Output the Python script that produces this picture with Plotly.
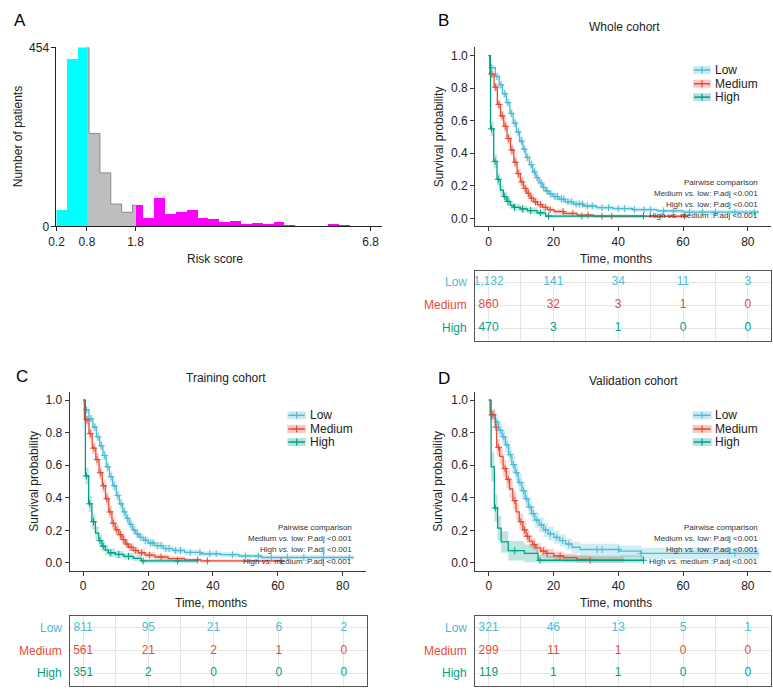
import plotly.graph_objects as go
from bisect import bisect_right

W, H = 773, 694
FONT = "Liberation Sans, Arial, Helvetica, sans-serif"
LOW_C, MED_C, HIGH_C = "#4DBBD5", "#E64B35", "#00A087"

# ---------------- Panel A: risk score histogram ----------------
hist_bin_start = 0.2
hist_bin_width = 0.228
hist_counts = [41, 426, 454, 236, 136, 57, 36, 54, 22, 73, 31, 37, 41, 22, 18,
               12, 13, 7, 10, 7, 12, 3, 2, 1, 2, 7, 5, 2, 2, 1]
risk_cutoffs = [0.84, 1.86]
risk_tick_vals = [0.2, 0.84, 1.86, 6.8]
risk_tick_text = ["0.2", "0.8", "1.8", "6.8"]
hist_colors = ["#00FFFF", "#BEBEBE", "#FF00FF"]

# ---------------- KM data: Whole cohort ----------------
whole_low_t = [0, 0.4, 2.1, 3.3, 4.3, 5.5, 6.6, 7.6, 8.6, 9.6, 10.6, 11.5, 12.6, 13.6, 14.6, 15.6,
               16.6, 17.6, 18.6, 19.9, 21.7, 23.7, 26.2, 29.3, 33.3, 38.4, 44.5, 52, 60]
whole_low_s = [1.0, 0.926, 0.872, 0.82, 0.766, 0.711, 0.645, 0.585, 0.531, 0.475, 0.425, 0.375, 0.33,
               0.285, 0.25, 0.218, 0.19, 0.168, 0.15, 0.134, 0.118, 0.102, 0.088, 0.076, 0.066, 0.06,
               0.054, 0.046, 0.038]
whole_low_ci = [0, 0.016, 0.02, 0.022, 0.024, 0.025, 0.026, 0.027, 0.028, 0.028, 0.028, 0.027, 0.026,
                0.025, 0.024, 0.023, 0.022, 0.021, 0.02, 0.019, 0.018, 0.017, 0.016, 0.015, 0.014,
                0.014, 0.013, 0.013, 0.013]
whole_low_cens = [1.0, 2.6, 3.8, 5.0, 6.0, 7.0, 8.2, 9.2, 10.2, 11.0, 12.0, 13.2, 14.2, 15.0, 16.2, 17.0,
                  18.0, 19.2, 20.5, 21.2, 22.5, 23.2, 24.5, 25.5, 27.0, 28.0, 29.0, 30.5, 32.0, 35.0,
                  37.0, 40.0, 42.0, 45.0, 48.0, 50.0, 54.0, 57.0, 62.0, 66.0, 70.0, 76.0, 82.0]
whole_low_end = 83.4

whole_med_t = [0, 0.4, 1.7, 2.7, 3.7, 4.7, 5.7, 6.8, 7.8, 8.8, 9.8, 10.8, 11.8, 12.8, 13.9, 15.1,
               16.6, 18.2, 20.2, 23.2, 27.3, 32.4]
whole_med_s = [1.0, 0.886, 0.806, 0.70, 0.63, 0.565, 0.49, 0.42, 0.345, 0.275, 0.224, 0.184, 0.154,
               0.124, 0.102, 0.084, 0.068, 0.054, 0.042, 0.03, 0.02, 0.013]
whole_med_ci = [0, 0.02, 0.026, 0.03, 0.032, 0.033, 0.033, 0.033, 0.032, 0.03, 0.028, 0.026, 0.024,
                0.022, 0.02, 0.018, 0.016, 0.014, 0.013, 0.011, 0.009, 0.008]
whole_med_cens = [1.0, 2.2, 3.2, 4.2, 5.2, 6.2, 7.2, 8.2, 9.2, 10.3, 11.3, 12.3, 13.3, 14.5, 16.0,
                  17.5, 19.0, 23.0, 26.0, 30.7, 35.0, 38.0, 60.5]
whole_med_end = 61.0

whole_high_t = [0, 0.6, 1.6, 2.6, 3.6, 4.6, 5.6, 6.7, 7.7, 9.8, 12, 15, 17.6]
whole_high_s = [1.0, 0.55, 0.35, 0.24, 0.174, 0.134, 0.104, 0.08, 0.068, 0.058, 0.048, 0.034, 0.014]
whole_high_ci = [0, 0.045, 0.043, 0.038, 0.034, 0.03, 0.027, 0.024, 0.022, 0.02, 0.019, 0.016, 0.01]
whole_high_cens = [0.9, 2.0, 3.0, 5.0, 6.0, 8.0, 10.5, 13.0, 16.0, 18.5, 28.8, 47.8]
whole_high_end = 48.0

# ---------------- KM data: Training cohort ----------------
train_low_t = [0, 0.4, 1.8, 3.0, 4.1, 5.1, 6.1, 7.1, 8.1, 9.1, 10.2, 11.2, 12.2, 13.2, 14.2, 15.2,
               16.2, 17.3, 18.6, 20.1, 22.1, 24.7, 27.7, 31.3, 36.3, 42.4, 48, 55]
train_low_s = [1.0, 0.94, 0.886, 0.835, 0.775, 0.72, 0.66, 0.59, 0.53, 0.474, 0.414, 0.363, 0.313,
               0.273, 0.237, 0.203, 0.179, 0.157, 0.139, 0.122, 0.106, 0.088, 0.076, 0.064, 0.056,
               0.05, 0.042, 0.033]
train_low_ci = [0, 0.018, 0.023, 0.026, 0.028, 0.03, 0.031, 0.032, 0.033, 0.033, 0.033, 0.032, 0.031,
                0.029, 0.028, 0.026, 0.025, 0.024, 0.023, 0.022, 0.021, 0.019, 0.018, 0.017, 0.016,
                0.015, 0.014, 0.013]
train_low_cens = [1.0, 2.4, 3.6, 4.6, 5.6, 6.6, 7.6, 8.6, 9.6, 10.7, 11.7, 12.7, 13.7, 14.7, 15.7,
                  16.7, 17.8, 19.2, 20.8, 21.5, 23.0, 24.0, 25.5, 26.5, 28.5, 30.0, 33.0, 36.0, 39.0,
                  41.0, 46.0, 50.0, 54.0, 58.0, 63.0, 68.0, 74.0, 82.0]
train_low_end = 83.4

train_med_t = [0, 0.4, 1.8, 2.8, 3.9, 4.9, 5.9, 6.9, 7.9, 8.9, 9.9, 11, 12, 13, 14, 15.5, 17, 19.1,
               22.1, 26.2, 31.3, 36.3]
train_med_s = [1.0, 0.88, 0.795, 0.705, 0.635, 0.554, 0.474, 0.394, 0.313, 0.243, 0.203, 0.173, 0.143,
               0.116, 0.096, 0.076, 0.062, 0.048, 0.036, 0.026, 0.018, 0.012]
train_med_ci = [0, 0.027, 0.033, 0.037, 0.039, 0.04, 0.04, 0.04, 0.038, 0.035, 0.033, 0.031, 0.029,
                0.026, 0.024, 0.022, 0.02, 0.018, 0.016, 0.013, 0.011, 0.009]
train_med_cens = [1.2, 2.2, 3.3, 4.3, 5.3, 6.3, 7.3, 8.3, 9.3, 10.4, 11.5, 12.5, 13.5, 14.8, 16.2,
                  18.0, 20.5, 24.0, 35.3, 38.3, 61.0]
train_med_end = 61.4

train_high_t = [0, 0.7, 1.7, 2.7, 3.8, 4.8, 5.8, 6.8, 7.8, 9.9, 12.5, 15.5, 17.9]
train_high_s = [1.0, 0.534, 0.363, 0.253, 0.183, 0.137, 0.102, 0.078, 0.062, 0.052, 0.04, 0.028, 0.012]
train_high_ci = [0, 0.052, 0.05, 0.046, 0.04, 0.036, 0.032, 0.028, 0.025, 0.023, 0.02, 0.017, 0.011]
train_high_cens = [1.0, 2.0, 3.2, 5.2, 6.2, 8.5, 11.0, 14.0, 18.5, 29.1]
train_high_end = 35.3

# ---------------- KM data: Validation cohort ----------------
valid_low_t = [0, 0.5, 2.0, 3.0, 4.1, 5.1, 6.1, 7.1, 8.1, 9.1, 10.2, 11.2, 12.2, 13.2, 14.2, 15.5,
               16.9, 18.3, 20.1, 21.9, 23.7, 25.7, 28.2, 40.4, 47]
valid_low_s = [1.0, 0.91, 0.865, 0.815, 0.775, 0.725, 0.665, 0.604, 0.554, 0.494, 0.444, 0.394, 0.343,
               0.303, 0.263, 0.233, 0.203, 0.179, 0.157, 0.137, 0.116, 0.096, 0.082, 0.072, 0.058]
valid_low_ci = [0, 0.03, 0.037, 0.042, 0.045, 0.048, 0.05, 0.052, 0.053, 0.054, 0.054, 0.053, 0.052,
                0.05, 0.048, 0.046, 0.044, 0.042, 0.04, 0.038, 0.036, 0.035, 0.035, 0.035, 0.035]
valid_low_cens = [1.5, 2.5, 3.5, 4.6, 5.6, 6.6, 7.6, 8.6, 9.6, 10.7, 11.7, 12.7, 13.7, 14.8, 16.2,
                  17.5, 19.0, 21.0, 22.8, 24.7, 33.4, 35.0, 40.0, 47.0, 76.0]
valid_low_end = 83.4

valid_med_t = [0, 0.4, 2.0, 2.4, 3.35, 4.4, 5.4, 6.4, 7.4, 8.4, 9.4, 10.5, 11.5, 12.5, 13.5, 14.5,
               16.0, 17.6, 20.1, 23.1, 27.2, 30.8]
valid_med_s = [1.0, 0.91, 0.835, 0.71, 0.655, 0.58, 0.514, 0.454, 0.383, 0.313, 0.253, 0.203, 0.163,
               0.133, 0.112, 0.092, 0.072, 0.058, 0.042, 0.032, 0.022, 0.016]
valid_med_ci = [0, 0.033, 0.042, 0.05, 0.052, 0.054, 0.055, 0.055, 0.054, 0.052, 0.048, 0.045, 0.041,
                0.038, 0.035, 0.032, 0.03, 0.028, 0.026, 0.025, 0.024, 0.024]
valid_med_cens = [1.0, 2.2, 3.0, 5.0, 6.0, 8.0, 9.9, 11.0, 12.0, 14.0, 16.8, 18.0, 22.0, 31.3]
valid_med_end = 41.8

valid_high_t = [0, 0.7, 1.7, 2.7, 3.8, 6.0, 11.0, 15.2]
valid_high_s = [1.0, 0.59, 0.337, 0.213, 0.129, 0.075, 0.058, 0.016]
valid_high_ci = [0, 0.09, 0.085, 0.075, 0.065, 0.06, 0.055, 0.03]
valid_high_cens = [2.0, 8.0, 15.8, 47.8]
valid_high_end = 47.8

# ---------------- Numbers at risk ----------------
risk_times = [0, 20, 40, 60, 80]
whole_risk_low = [1132, 141, 34, 11, 3]
whole_risk_med = [860, 32, 3, 1, 0]
whole_risk_high = [470, 3, 1, 0, 0]
train_risk_low = [811, 95, 21, 6, 2]
train_risk_med = [561, 21, 2, 1, 0]
train_risk_high = [351, 2, 0, 0, 0]
valid_risk_low = [321, 46, 13, 5, 1]
valid_risk_med = [299, 11, 1, 0, 0]
valid_risk_high = [119, 1, 1, 0, 0]

group_names = ["Low", "Medium", "High"]
group_colors = [LOW_C, MED_C, HIGH_C]
pairwise_lines = ["Pairwise comparison",
                  "Medium <i>vs.</i> low: P.adj <0.001",
                  "High <i>vs.</i> low: P.adj <0.001",
                  "High <i>vs.</i> medium :P.adj <0.001"]

# ---------------- helpers ----------------
def px(x):
    return x / W

def py(y):
    return 1 - y / H

def rgba(hexc, a):
    hexc = hexc.lstrip("#")
    r, g, b = int(hexc[0:2], 16), int(hexc[2:4], 16), int(hexc[4:6], 16)
    return f"rgba({r},{g},{b},{a})"

def step_at(times, surv, t):
    i = bisect_right(times, t) - 1
    return surv[max(i, 0)]

fig = go.Figure()
annotations = []
shapes = []

# ---------------- Panel A ----------------
edges = [hist_bin_start + i * hist_bin_width for i in range(len(hist_counts) + 1)]
seg = {0: ([], [], []), 1: ([], [], []), 2: ([], [], [])}
bounds = [-1e9] + risk_cutoffs + [1e9]
for i, c in enumerate(hist_counts):
    lft, rgt = edges[i], edges[i + 1]
    for g in range(3):
        a, b = max(lft, bounds[g]), min(rgt, bounds[g + 1])
        if b > a:
            seg[g][0].append((a + b) / 2)
            seg[g][1].append(b - a)
            seg[g][2].append(c)
for g in range(3):
    fig.add_trace(go.Bar(x=seg[g][0], y=seg[g][2], width=seg[g][1], marker=dict(color=hist_colors[g], line=dict(width=0)),
                         xaxis="x", yaxis="y", hoverinfo="skip"))
ox, oy = [], []
for i, c in enumerate(hist_counts):
    lft, rgt = edges[i], edges[i + 1]
    a, b = max(lft, risk_cutoffs[0]), min(rgt, risk_cutoffs[1])
    if b > a:
        ox += [a, b]
        oy += [c, c]
fig.add_trace(go.Scatter(x=ox, y=oy, mode="lines", line=dict(color="#8c8c8c", width=1), xaxis="x", yaxis="y", hoverinfo="skip"))

# ---------------- KM panels ----------------
panels = [
    dict(km=("x2", "y2"), tb=("x3", "y3"),
         curves=[(whole_low_t, whole_low_s, whole_low_ci, whole_low_cens, whole_low_end),
                 (whole_med_t, whole_med_s, whole_med_ci, whole_med_cens, whole_med_end),
                 (whole_high_t, whole_high_s, whole_high_ci, whole_high_cens, whole_high_end)],
         risk=[whole_risk_low, whole_risk_med, whole_risk_high]),
    dict(km=("x4", "y4"), tb=("x5", "y5"),
         curves=[(train_low_t, train_low_s, train_low_ci, train_low_cens, train_low_end),
                 (train_med_t, train_med_s, train_med_ci, train_med_cens, train_med_end),
                 (train_high_t, train_high_s, train_high_ci, train_high_cens, train_high_end)],
         risk=[train_risk_low, train_risk_med, train_risk_high]),
    dict(km=("x6", "y6"), tb=("x7", "y7"),
         curves=[(valid_low_t, valid_low_s, valid_low_ci, valid_low_cens, valid_low_end),
                 (valid_med_t, valid_med_s, valid_med_ci, valid_med_cens, valid_med_end),
                 (valid_high_t, valid_high_s, valid_high_ci, valid_high_cens, valid_high_end)],
         risk=[valid_risk_low, valid_risk_med, valid_risk_high]),
]

for p in panels:
    xa, ya = p["km"]
    for (t, s, ci, cens, end), col in zip(p["curves"], group_colors):
        xs = t + [end]
        ys = s + [s[-1]]
        hs = ci + [ci[-1]]
        lo = [max(a - h, 0) for a, h in zip(ys, hs)]
        hi = [min(a + h, 1) for a, h in zip(ys, hs)]
        fig.add_trace(go.Scatter(x=xs, y=lo, mode="lines", line=dict(width=0, shape="hv"),
                                 xaxis=xa, yaxis=ya, hoverinfo="skip"))
        fig.add_trace(go.Scatter(x=xs, y=hi, mode="lines", line=dict(width=0, shape="hv"), fill="tonexty",
                                 fillcolor=rgba(col, 0.26), xaxis=xa, yaxis=ya, hoverinfo="skip"))
    for (t, s, ci, cens, end), col in zip(p["curves"], group_colors):
        xs = t + [end]
        ys = s + [s[-1]]
        fig.add_trace(go.Scatter(x=xs, y=ys, mode="lines", line=dict(color=col, width=1.3, shape="hv"),
                                 xaxis=xa, yaxis=ya, hoverinfo="skip"))
        cy = [step_at(t, s, c) for c in cens]
        fig.add_trace(go.Scatter(x=cens, y=cy, mode="markers",
                                 marker=dict(symbol="cross-thin", size=5, line=dict(color=col, width=1)),
                                 xaxis=xa, yaxis=ya, hoverinfo="skip"))
    txa, tya = p["tb"]
    for gi, (vals, col) in enumerate(zip(p["risk"], group_colors)):
        fig.add_trace(go.Scatter(x=risk_times, y=[3 - gi] * len(risk_times), mode="text",
                                 text=[f"{v:,}" for v in vals], textposition="middle center",
                                 textfont=dict(size=12, color=col, family=FONT),
                                 xaxis=txa, yaxis=tya, hoverinfo="skip"))

# ---------------- axes ----------------
layout_axes = {}
axis_line = "#3a3a3a"
layout_axes["xaxis"] = dict(domain=[px(49), px(378)], range=[0.2, edges[-1]], anchor="y",
                            showline=True, linecolor="#222", linewidth=1, ticks="outside", ticklen=4,
                            tickcolor="#222", tickvals=risk_tick_vals, ticktext=risk_tick_text,
                            tickfont=dict(size=12, color="#222"), showgrid=False, zeroline=False)
layout_axes["yaxis"] = dict(domain=[py(224), py(41.3)], range=[0, 454], anchor="x",
                            showline=True, linecolor="#222", linewidth=1, ticks="outside", ticklen=4,
                            tickcolor="#222", tickvals=[0, 454], tickfont=dict(size=12, color="#222"),
                            showgrid=False, zeroline=False)

geo = [
    ((472, 771), (41.3, 224), (472, 771), (269, 341)),
    ((62.3, 361.7), (393, 575.6), (62.3, 363), (621.7, 693.3)),
    ((472.3, 771), (393, 575.6), (472, 771), (621.7, 693.3)),
]
for k, (kx, ky, tx, ty) in enumerate(geo):
    ia = 2 + 2 * k
    ib = 3 + 2 * k
    layout_axes[f"xaxis{ia}"] = dict(domain=[px(kx[0]), px(kx[1])], range=[-4.15, 87.15], anchor=f"y{ia}",
                                     showline=True, linecolor=axis_line, linewidth=1, ticks="outside",
                                     ticklen=4, tickcolor=axis_line, tickvals=[0, 20, 40, 60, 80],
                                     tickfont=dict(size=12, color="#222"), showgrid=False, zeroline=False)
    layout_axes[f"yaxis{ia}"] = dict(domain=[py(ky[1]), py(ky[0])], range=[-0.05, 1.05], anchor=f"x{ia}",
                                     showline=True, linecolor=axis_line, linewidth=1, ticks="outside",
                                     ticklen=4, tickcolor=axis_line, tickvals=[0, 0.2, 0.4, 0.6, 0.8, 1.0],
                                     tickformat=".1f", tickfont=dict(size=12, color="#222"),
                                     showgrid=False, zeroline=False)
    layout_axes[f"xaxis{ib}"] = dict(domain=[px(tx[0]), px(tx[1])], range=[-4.15, 87.15], anchor=f"y{ib}",
                                     showline=True, mirror=True, linecolor="#555", linewidth=1,
                                     showticklabels=False, ticks="", tick0=0, dtick=10,
                                     showgrid=True, gridcolor="#E6E6E6", gridwidth=1, zeroline=False)
    layout_axes[f"yaxis{ib}"] = dict(domain=[py(ty[1]), py(ty[0])], range=[0.43, 3.51], anchor=f"x{ib}",
                                     showline=True, mirror=True, linecolor="#555", linewidth=1,
                                     showticklabels=False, ticks="", tickvals=[1, 2, 3],
                                     showgrid=True, gridcolor="#E6E6E6", gridwidth=1, zeroline=False)

# ---------------- text annotations ----------------
def ann(text, x, y, size=12, xanchor="center", yanchor="middle", angle=0, color="#222"):
    annotations.append(dict(text=text, x=px(x), y=py(y), xref="paper", yref="paper", showarrow=False,
                            xanchor=xanchor, yanchor=yanchor, textangle=angle,
                            font=dict(size=size, color=color, family=FONT)))

ann("A", 4, 14, size=17, xanchor="left", color="#000")
ann("B", 432, 14, size=17, xanchor="left", color="#000")
ann("C", 6, 377.5, size=17, xanchor="left", color="#000")
ann("D", 432, 379, size=17, xanchor="left", color="#000")
ann("Whole cohort", 623, 20)
ann("Training cohort", 220, 379)
ann("Validation cohort", 632.5, 381.7)
ann("Number of patients", 9.5, 132.5, angle=-90)
ann("Risk score", 208.7, 257)
ann("Survival probability", 435, 132.5, angle=-90)
ann("Survival probability", 26.7, 484, angle=-90)
ann("Survival probability", 435, 484, angle=-90)
ann("Time, months", 614, 256.7)
ann("Time, months", 205, 608)
ann("Time, months", 614, 608)

for right, ys in [(760, [179, 190.3, 201.7, 213]), (350, [531, 542.7, 553.7, 565.7]),
                  (760, [531, 542.7, 553.7, 565.7])]:
    for txt, yv in zip(pairwise_lines, ys):
        ann(txt, right, yv, size=8, xanchor="right", color="#333")

for k, (lab_x, tya) in enumerate([(466, "y3"), (56.5, "y5"), (466, "y7")]):
    for gi, (name, col) in enumerate(zip(group_names, group_colors)):
        annotations.append(dict(text=name, x=px(lab_x), y=3 - gi, xref="paper", yref=tya, showarrow=False,
                                xanchor="right", yanchor="middle", font=dict(size=12, color=col, family=FONT)))

for (xl, xr, xt, ys) in [(693.3, 709.3, 712.7, [64.3, 78.3, 92]),
                         (283.3, 300, 302.7, [416.7, 430.7, 444]),
                         (692.7, 710, 712.7, [416.7, 430.7, 444])]:
    for name, col, yv in zip(group_names, group_colors, ys):
        shapes.append(dict(type="rect", xref="paper", yref="paper", x0=px(xl - 1), x1=px(xr + 1),
                           y0=py(yv + 4), y1=py(yv - 4), fillcolor=rgba(col, 0.3), line=dict(width=0)))
        shapes.append(dict(type="line", xref="paper", yref="paper", x0=px(xl), x1=px(xr), y0=py(yv), y1=py(yv),
                           line=dict(color=col, width=1.5)))
        xm = (xl + xr) / 2
        shapes.append(dict(type="line", xref="paper", yref="paper", x0=px(xm), x1=px(xm), y0=py(yv - 3.5),
                           y1=py(yv + 3.5), line=dict(color=col, width=1.2)))
        ann(name, xt, yv, size=12, xanchor="left", color="#222")

fig.update_layout(
    width=W, height=H, margin=dict(l=0, r=0, t=0, b=0),
    paper_bgcolor="white", plot_bgcolor="white", showlegend=False,
    bargap=0, barmode="overlay",
    font=dict(family=FONT, size=12, color="#222"),
    annotations=annotations, shapes=shapes, **layout_axes,
)

fig.write_html("out.html", config={"displayModeBar": False, "staticPlot": True},
               post_script="document.body.style.margin='0px';document.body.style.padding='0px';document.body.style.overflow='hidden';")
